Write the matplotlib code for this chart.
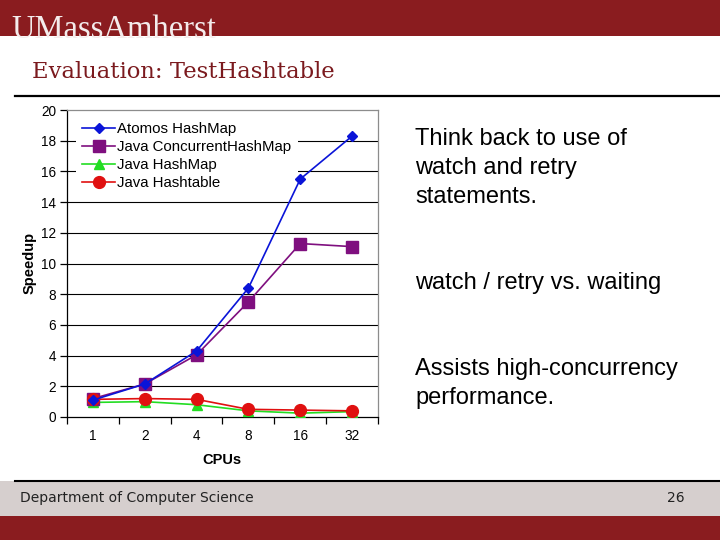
import matplotlib
matplotlib.use("Agg")
import matplotlib.pyplot as plt
from matplotlib.patches import Rectangle
from matplotlib.lines import Line2D

cpus = ["1", "2", "4", "8", "16", "32"]
atomos = [1.1, 2.15, 4.3, 8.4, 15.5, 18.3]
concurrent = [1.2, 2.15, 4.05, 7.5, 11.3, 11.1]
java_hashmap = [0.95, 1.0, 0.8, 0.4, 0.25, 0.35]
java_hashtable = [1.15, 1.2, 1.15, 0.5, 0.45, 0.4]
series_names = ["Atomos HashMap", "Java ConcurrentHashMap", "Java HashMap", "Java Hashtable"]
yticks = [0, 2, 4, 6, 8, 10, 12, 14, 16, 18, 20]

W, H = 720, 540
fig = plt.figure(figsize=(7.2, 5.4), dpi=100)
fig.patch.set_facecolor("white")

def fx(x):
    return x / W

def fy(y):
    return 1 - y / H

RED = "#8a1c1f"
# header band
fig.add_artist(Rectangle((0, fy(36)), 1, 36 / H, transform=fig.transFigure,
                         facecolor=RED, edgecolor="none", zorder=0))
fig.text(fx(11), fy(37.5), "UMassAmherst", color="#f4ecec", fontsize=23.5,
         family="Liberation Serif", ha="left", va="baseline")
fig.text(fx(32), fy(78), "Evaluation: TestHashtable", color="#7b1a1e", fontsize=16.3,
         family="DejaVu Serif", ha="left", va="baseline")
fig.add_artist(Line2D([fx(15), 1], [fy(96), fy(96)], transform=fig.transFigure,
                      color="black", linewidth=1.6))

# footer
fig.add_artist(Rectangle((0, fy(516)), 1, 35 / H, transform=fig.transFigure,
                         facecolor="#d6cfce", edgecolor="none", zorder=0))
fig.add_artist(Rectangle((0, 0), 1, 24.5 / H, transform=fig.transFigure,
                         facecolor=RED, edgecolor="none", zorder=0))
fig.add_artist(Line2D([fx(15), 1], [fy(480.5), fy(480.5)], transform=fig.transFigure,
                      color="black", linewidth=1.5))
fig.text(fx(20), fy(498), "Department of Computer Science", color="#222222", fontsize=10,
         family="DejaVu Sans", ha="left", va="center")
fig.text(fx(685), fy(498), "26", color="#222222", fontsize=10,
         family="DejaVu Sans", ha="right", va="center")

# right text
txt_kw = dict(fontsize=17, family="Liberation Sans", ha="left", va="center", color="black")
fig.text(fx(415), fy(139), "Think back to use of", **txt_kw)
fig.text(fx(415), fy(168), "watch and retry", **txt_kw)
fig.text(fx(415), fy(197), "statements.", **txt_kw)
fig.text(fx(415), fy(283), "watch / retry vs. waiting", **txt_kw)
fig.text(fx(415), fy(369), "Assists high-concurrency", **txt_kw)
fig.text(fx(415), fy(398), "performance.", **txt_kw)

# chart
ax = fig.add_axes([fx(67), fy(417), fx(378) - fx(67), (417 - 110) / H])
x = list(range(len(cpus)))
ax.plot(x, atomos, color="#0a14d8", marker="D", markersize=5.5, linewidth=1.2,
        label=series_names[0], zorder=6)
ax.plot(x, concurrent, color="#7f0f7f", marker="s", markersize=8, linewidth=1.2,
        label=series_names[1], zorder=5)
ax.plot(x, java_hashmap, color="#22dd22", marker="^", markersize=7, linewidth=1.2,
        label=series_names[2], zorder=4)
ax.plot(x, java_hashtable, color="#e01010", marker="o", markersize=8.5, linewidth=1.2,
        label=series_names[3], zorder=5)

ax.set_xlim(-0.5, len(cpus) - 0.5)
ax.set_ylim(0, 20)
ax.set_yticks(yticks)
ax.set_yticklabels([str(v) for v in yticks], fontsize=9.8, family="Liberation Sans")
ax.set_xticks(x)
ax.set_xticklabels(cpus, fontsize=9.8, family="Liberation Sans")
ax.tick_params(axis="x", which="major", length=0, pad=9)
ax.set_xticks([i - 0.5 for i in range(len(cpus) + 1)], minor=True)
ax.tick_params(axis="x", which="minor", length=5, direction="out", width=0.9)
ax.tick_params(axis="y", length=5, direction="out", width=0.9, pad=3)
for v in yticks[1:-1]:
    ax.axhline(v, color="black", linewidth=0.8, zorder=1)
ax.spines["top"].set_color("#8c8c8c")
ax.spines["right"].set_color("#8c8c8c")
ax.spines["left"].set_color("black")
ax.spines["bottom"].set_color("black")
for s in ax.spines.values():
    s.set_linewidth(0.9)

ax.set_xlabel("CPUs", fontsize=10.5, fontweight="bold", family="Liberation Sans")
ax.set_ylabel("Speedup", fontsize=10.5, fontweight="bold", family="Liberation Sans")
ax.xaxis.set_label_coords((222 - 67) / 311, -(460 - 417) / 307)
ax.yaxis.set_label_coords(-(67 - 30) / 311, (417 - 263) / 307)
ax.xaxis.label.set_va("center")
ax.yaxis.label.set_va("center")

leg = ax.legend(loc="upper left", bbox_to_anchor=(0.02, 0.99), frameon=True,
                fancybox=False, edgecolor="white", facecolor="white", framealpha=1,
                prop={"family": "Liberation Sans", "size": 10.8}, handlelength=2.2,
                handletextpad=0.15, labelspacing=0.26, borderpad=0.4, borderaxespad=0.2)
leg.set_zorder(2)
leg.get_frame().set_linewidth(0)

fig.savefig("out.png", dpi=100)
